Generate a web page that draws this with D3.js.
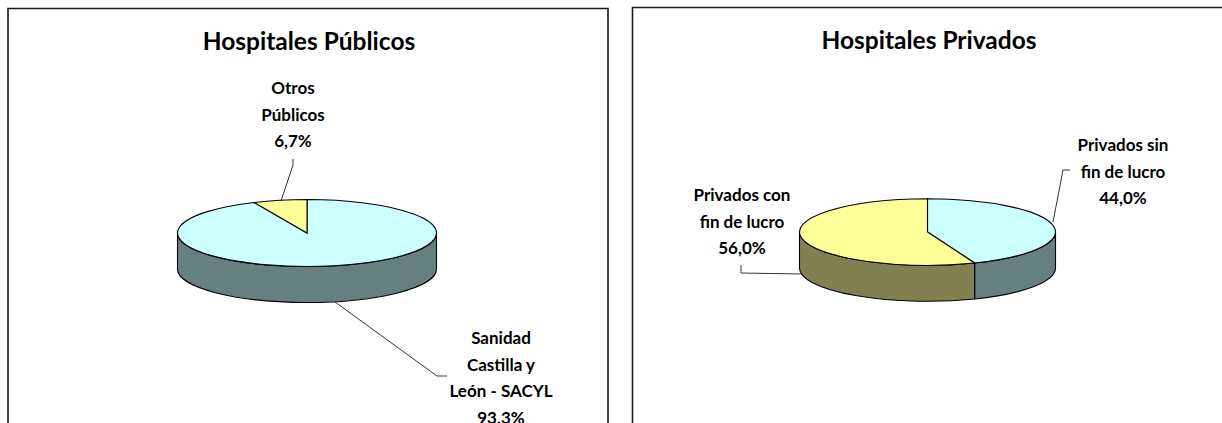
<!DOCTYPE html>
<html>
<head>
<meta charset="utf-8">
<script src="https://cdnjs.cloudflare.com/ajax/libs/d3/7.8.5/d3.min.js"></script>
<style>
html, body { margin: 0; padding: 0; background: #fff; overflow: hidden; }
text { font-family: Lato, "Open Sans", sans-serif; font-weight: 700; fill: #000; text-anchor: middle; }
</style>
</head>
<body>
<div class="canvas"></div>
<script>
const width = 1222
const height = 423

const titles = ["Hospitales Públicos", "Hospitales Privados"]

const publicCategories = ["Sanidad Castilla y León - SACYL", "Otros Públicos"]
const publicValues = [93.3, 6.7]
const publicLabels = ["93,3%", "6,7%"]
const publicLines = [["Sanidad", "Castilla y", "León - SACYL"], ["Otros", "Públicos"]]

const privateCategories = ["Privados sin fin de lucro", "Privados con fin de lucro"]
const privateValues = [44.0, 56.0]
const privateLabels = ["44,0%", "56,0%"]
const privateLines = [["Privados sin", "fin de lucro"], ["Privados con", "fin de lucro"]]

const topColors = ["#CCFFFF", "#FFFF99"]
const sideColors = ["#668080", "#808050"]

svg = d3.select(".canvas").append("svg")
    .attr("width", width)
    .attr("height", height)

drawPanel({
    frame: [8, 8.5, 608],
    title: titles[0], titleX: 309, titleY: 50,
    values: publicValues, lines: publicLines, labels: publicLabels,
    cx: 307, cy: 233, rx: 129.5, ry: 33.5, depth: 36,
    labelPos: [[501, 344], [293, 94]],
    leaders: [
        [[335, 302], [437, 376], [447, 376]],
        [[281, 201], [293, 165], [293, 159]]
    ]
})

drawPanel({
    frame: [632.5, 7.5, 1230],
    title: titles[1], titleX: 929, titleY: 49,
    values: privateValues, lines: privateLines, labels: privateLabels,
    cx: 927.5, cy: 232, rx: 128, ry: 33.3, depth: 36,
    labelPos: [[1123, 151], [742, 201]],
    leaders: [
        [[1053, 222], [1063, 170], [1070, 170]],
        [[802, 274], [741, 273], [741, 265]]
    ]
})

function drawPanel(p) {
    const g = svg.append("g")

    // frame: the bottom runs off the picture
    g.append("path")
        .attr("d", `M${p.frame[0]},${height + 5}V${p.frame[1]}H${p.frame[2]}V${height + 5}`)
        .attr("fill", "none")
        .attr("stroke", "#1a1a1a")
        .attr("stroke-width", 1.6)

    g.append("text")
        .attr("x", p.titleX)
        .attr("y", p.titleY)
        .style("font-size", "24.5px")
        .text(p.title)

    const slices = d3.pie().sort(null)(p.values)
    const point = a => [p.cx + p.rx * Math.sin(a), p.cy - p.ry * Math.cos(a)]

    // the wall only shows on the front half of the ellipse
    slices.forEach((s, i) => {
        const a0 = Math.max(s.startAngle, Math.PI / 2)
        const a1 = Math.min(s.endAngle, Math.PI * 3 / 2)
        if (a1 <= a0) return
        const [x0, y0] = point(a0)
        const [x1, y1] = point(a1)
        g.append("path")
            .attr("d", `M${x0},${y0}A${p.rx},${p.ry} 0 0 1 ${x1},${y1}V${y1 + p.depth}A${p.rx},${p.ry} 0 0 0 ${x0},${y0 + p.depth}Z`)
            .attr("fill", sideColors[i])
            .attr("stroke", "#000")
            .attr("stroke-width", 1.1)
    })

    // top face, d3.arc on a circle squashed into the ellipse
    const arc = d3.arc().innerRadius(0).outerRadius(p.rx)
    g.append("g")
        .attr("transform", `translate(${p.cx},${p.cy}) scale(1,${p.ry / p.rx})`)
        .selectAll("path")
        .data(slices)
        .enter()
        .append("path")
        .attr("d", arc)
        .attr("fill", (d, i) => topColors[i])
        .attr("stroke", "#000")
        .attr("stroke-width", 1.1)
        .attr("vector-effect", "non-scaling-stroke")

    const line = d3.line()
    g.selectAll(".leader")
        .data(p.leaders)
        .enter()
        .append("path")
        .attr("class", "leader")
        .attr("d", d => line(d))
        .attr("fill", "none")
        .attr("stroke", "#000")
        .attr("stroke-width", 0.8)

    p.lines.forEach((lines, i) => {
        const rows = lines.concat(p.labels[i])
        rows.forEach((row, k) => {
            g.append("text")
                .attr("x", p.labelPos[i][0])
                .attr("y", p.labelPos[i][1] + k * 26.7)
                .style("font-size", "17px")
                .text(row)
        })
    })
}
</script>
</body>
</html>
